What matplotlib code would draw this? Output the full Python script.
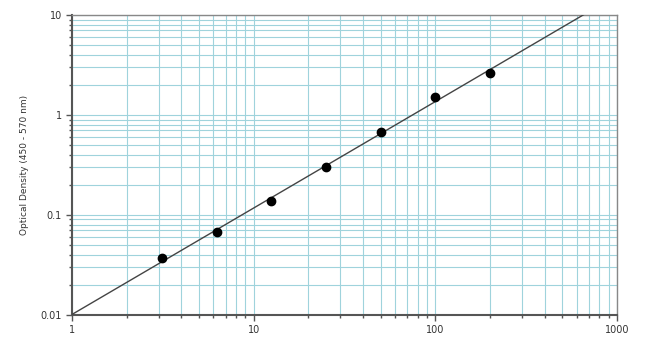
import matplotlib
matplotlib.use("Agg")
import matplotlib.pyplot as plt
import matplotlib.ticker as mticker
import numpy as np

# standard concentrations and measured optical density
conc = [3.125, 6.25, 12.5, 25, 50, 100, 200]
od = [0.037, 0.067, 0.138, 0.30, 0.68, 1.52, 2.65]

x_ticks = [1, 10, 100, 1000]
x_labels = ['1', '10', '100', '1000']
y_ticks = [0.01, 0.1, 1, 10]
y_labels = ['0.01', '0.1', '1', '10']

grid_col = '#9fd3dc'
axis_col = '#555555'

fig = plt.figure(figsize=(6.5, 3.57), dpi=100)
ax = fig.add_axes([0.111, 0.118, 0.838, 0.840])

ax.set_xscale('log')
ax.set_yscale('log')
ax.set_xlim(1, 1000)
ax.set_ylim(0.01, 10)

# linear fit in log-log space
p = np.polyfit(np.log10(conc), np.log10(od), 1)
xl = np.logspace(0, 3, 200)
ax.plot(xl, 10 ** np.polyval(p, np.log10(xl)), color='#444444', lw=1.0, zorder=3)
ax.plot(conc, od, 'o', color='black', ms=6, zorder=4)

ax.grid(True, which='both', color=grid_col, lw=0.8, zorder=0)
ax.set_axisbelow(True)

ax.set_xticks(x_ticks)
ax.set_xticklabels(x_labels)
ax.set_yticks(y_ticks)
ax.set_yticklabels(y_labels)
ax.xaxis.set_minor_locator(mticker.LogLocator(base=10, subs=np.arange(2, 10)))
ax.yaxis.set_minor_locator(mticker.LogLocator(base=10, subs=np.arange(2, 10)))
ax.xaxis.set_minor_formatter(mticker.NullFormatter())
ax.yaxis.set_minor_formatter(mticker.NullFormatter())

ax.tick_params(which='major', length=4, width=1, color=axis_col, labelsize=7, labelcolor='#333333')
ax.tick_params(which='minor', length=2.5, width=1, color=axis_col)

for s in ax.spines.values():
    s.set_color('#888888')
    s.set_linewidth(1)
ax.spines['left'].set_color(axis_col)
ax.spines['bottom'].set_color(axis_col)
ax.spines['left'].set_linewidth(1.5)
ax.spines['bottom'].set_linewidth(1.5)

ax.set_ylabel('Optical Density (450 - 570 nm)', fontsize=6.5, color='#333333', labelpad=8)

fig.savefig('out.png', dpi=100)
